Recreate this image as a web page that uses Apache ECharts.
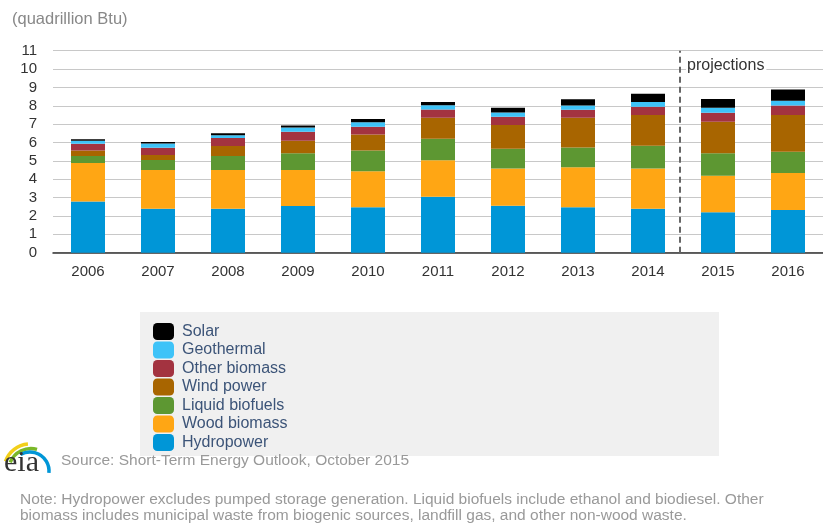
<!DOCTYPE html>
<html>
<head>
<meta charset="utf-8">
<script src="https://cdn.jsdelivr.net/npm/echarts@6/dist/echarts.min.js"></script>
<style>
  html, body { margin: 0; padding: 0; background: #fff; }
  #chart { width: 823px; height: 525px; }
</style>
</head>
<body>
<div id="chart"></div>
<script>
// years on the x axis
const years = ['2006', '2007', '2008', '2009', '2010', '2011', '2012', '2013', '2014', '2015', '2016'];

// quadrillion Btu
const hydropower = [2.79, 2.40, 2.40, 2.54, 2.47, 3.04, 2.55, 2.47, 2.39, 2.20, 2.32];
const woodBiomass = [2.09, 2.10, 2.10, 1.96, 1.96, 1.99, 2.03, 2.19, 2.19, 1.99, 2.02];
const liquidBiofuels = [0.38, 0.55, 0.76, 0.91, 1.14, 1.17, 1.08, 1.07, 1.24, 1.22, 1.16];
const windPower = [0.31, 0.27, 0.55, 0.69, 0.87, 1.15, 1.29, 1.62, 1.68, 1.72, 2.00];
const otherBiomass = [0.36, 0.40, 0.43, 0.49, 0.42, 0.45, 0.46, 0.43, 0.45, 0.49, 0.52];
const geothermal = [0.17, 0.23, 0.15, 0.23, 0.25, 0.23, 0.22, 0.24, 0.26, 0.27, 0.26];
const solar = [0.08, 0.08, 0.11, 0.11, 0.17, 0.18, 0.26, 0.34, 0.45, 0.48, 0.61];

// where history ends and projections start (between 2014 and 2015)
const projectionStart = 8.45;

const seriesDefs = [
  { name: 'Hydropower', data: hydropower, color: '#0096d7' },
  { name: 'Wood biomass', data: woodBiomass, color: '#ffa614' },
  { name: 'Liquid biofuels', data: liquidBiofuels, color: '#5d9732' },
  { name: 'Wind power', data: windPower, color: '#a86500' },
  { name: 'Other biomass', data: otherBiomass, color: '#a33340' },
  { name: 'Geothermal', data: geothermal, color: '#3ec3f8' },
  { name: 'Solar', data: solar, color: '#000000' }
];

const font = '"Liberation Sans", Arial, sans-serif';
const chart = echarts.init(document.getElementById('chart'));

const barSeries = seriesDefs.map(s => ({
  name: s.name,
  type: 'bar',
  stack: 'total',
  barWidth: 34,
  data: s.data,
  itemStyle: { color: s.color },
  emphasis: { disabled: true }
}));

chart.setOption({
  animation: false,
  textStyle: { fontFamily: font },
  grid: { left: 53, top: 50.7, width: 773, bottom: 272.3 },
  xAxis: [
    {
      type: 'category',
      data: years,
      axisLine: { lineStyle: { color: '#333', width: 1.5 } },
      axisTick: { alignWithLabel: true, length: 5, lineStyle: { color: '#333' } },
      axisLabel: { color: '#333', fontSize: 15, margin: 12, fontFamily: font }
    },
    {
      type: 'value',
      min: -0.5,
      max: 10.5,
      show: false
    }
  ],
  yAxis: {
    type: 'value',
    min: 0,
    max: 11,
    interval: 1,
    axisLine: { show: false },
    axisTick: { show: false },
    splitLine: { lineStyle: { color: '#c8c8c8', width: 1 } },
    axisLabel: { color: '#333', fontSize: 15, margin: 16, fontFamily: font }
  },
  legend: {
    orient: 'vertical',
    left: 140,
    top: 312,
    padding: [11, 20, 5, 13],
    itemWidth: 21,
    itemHeight: 17,
    itemGap: 1.5,
    icon: 'roundRect',
    selectedMode: false,
    data: ['Solar', 'Geothermal', 'Other biomass', 'Wind power', 'Liquid biofuels', 'Wood biomass', 'Hydropower'],
    textStyle: { color: '#3c5478', fontSize: 16, lineHeight: 17, fontFamily: font, padding: [0, 0, 0, 3] }
  },
  series: barSeries.concat([
    {
      type: 'line',
      xAxisIndex: 1,
      data: [],
      silent: true,
      markLine: {
        symbol: 'none',
        silent: true,
        label: { show: false },
        lineStyle: { color: '#666', type: [6, 4], width: 2 },
        data: [{ xAxis: projectionStart }]
      }
    }
  ]),
  graphic: [
    {
      type: 'rect',
      z: -1,
      shape: { x: 140, y: 312, width: 579, height: 144 },
      style: { fill: '#f0f0f0' },
      silent: true
    },
    {
      type: 'text',
      left: 12,
      top: 11,
      style: { text: '(quadrillion Btu)', fill: '#888', font: '16.5px ' + font }
    },
    {
      type: 'text',
      left: 686,
      top: 57,
      z: 10,
      style: {
        text: 'projections', fill: '#333', font: '16px ' + font,
        backgroundColor: '#fff', padding: [1, 2, 1, 1]
      }
    },
    // eia logo
    {
      type: 'arc',
      shape: { cx: 30, cy: 470, r: 26, startAngle: -2.8, endAngle: -1.65 },
      style: { stroke: '#f2cf1a', lineWidth: 3.5, fill: null }
    },
    {
      type: 'arc',
      shape: { cx: 31, cy: 471, r: 22.5, startAngle: -2.75, endAngle: -1.3 },
      style: { stroke: '#7ab829', lineWidth: 3.5, fill: null }
    },
    {
      type: 'arc',
      shape: { cx: 30, cy: 471, r: 19, startAngle: -2.1, endAngle: 0.1 },
      style: { stroke: '#0096d7', lineWidth: 3.5, fill: null }
    },
    {
      type: 'text',
      left: 4,
      top: 448,
      style: { text: 'eia', fill: '#333', font: '30px "Liberation Serif", "DejaVu Serif", serif' }
    },
    {
      type: 'text',
      left: 61,
      top: 453,
      style: { text: 'Source: Short-Term Energy Outlook, October 2015', fill: '#999', font: '15.5px ' + font }
    },
    {
      type: 'text',
      left: 20,
      top: 491,
      style: {
        text: 'Note: Hydropower excludes pumped storage generation. Liquid biofuels include ethanol and biodiesel. Other\nbiomass includes municipal waste from biogenic sources, landfill gas, and other non-wood waste.',
        fill: '#999',
        font: '15.5px ' + font,
        lineHeight: 16.5
      }
    }
  ]
});
</script>
</body>
</html>
